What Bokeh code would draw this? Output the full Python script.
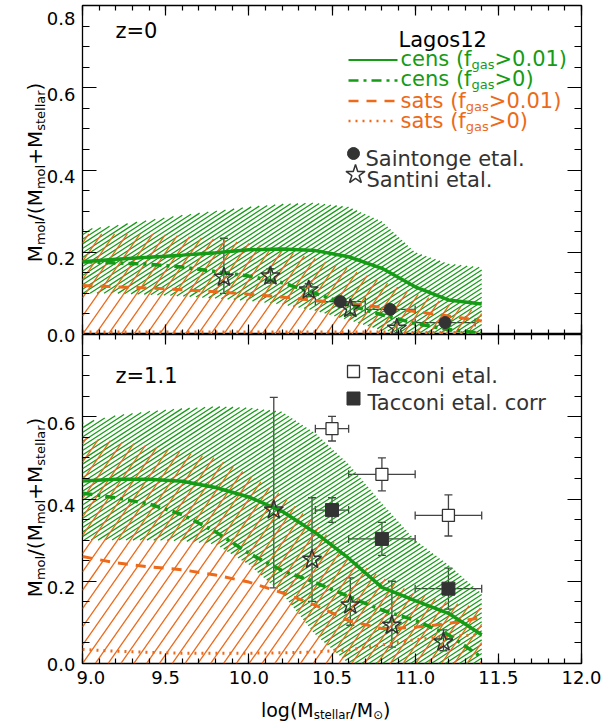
import math
import numpy as np
from bokeh.plotting import figure
from bokeh.layouts import column, row
from bokeh.models import (Range1d, LinearAxis, FixedTicker, PrintfTickFormatter,
                          Label, Whisker, TeeHead, ColumnDataSource)
from bokeh.embed import file_html
from bokeh.resources import INLINE

# ---------------- data ----------------
mass = [9.0, 9.2, 9.4, 9.6, 9.8, 10.0, 10.2, 10.4, 10.6, 10.8, 11.0, 11.2, 11.4]

# z = 0 model (Lagos12)
z0_cens_gt001 = [0.177, 0.183, 0.188, 0.193, 0.199, 0.206, 0.208, 0.204, 0.189, 0.161, 0.116, 0.084, 0.074]
z0_cens_gt0 = [0.177, 0.174, 0.171, 0.164, 0.153, 0.142, 0.126, 0.100, 0.072, 0.048, 0.027, 0.012, 0.003]
z0_sats_gt001 = [0.119, 0.116, 0.113, 0.109, 0.104, 0.098, 0.091, 0.083, 0.075, 0.066, 0.056, 0.045, 0.033]
z0_sats_gt0 = [0.006, 0.006, 0.006, 0.006, 0.006, 0.006, 0.006, 0.006, 0.006, 0.006, 0.005, 0.005, 0.005]
z0_cens_hi = [0.255, 0.265, 0.278, 0.290, 0.300, 0.310, 0.317, 0.320, 0.310, 0.275, 0.200, 0.172, 0.163]
z0_cens_lo = [0.100, 0.100, 0.097, 0.093, 0.088, 0.082, 0.073, 0.058, 0.035, 0.010, 0.0, 0.0, 0.0]
z0_sats_hi = [0.245, 0.245, 0.245, 0.240, 0.232, 0.222, 0.205, 0.185, 0.160, 0.130, 0.100, 0.075, 0.055]
z0_sats_lo = [0.0, 0.0, 0.0, 0.0, 0.0, 0.0, 0.0, 0.0, 0.0, 0.0, 0.0, 0.0, 0.0]

# z = 1.1 model
z1_cens_gt001 = [0.444, 0.448, 0.448, 0.443, 0.428, 0.405, 0.370, 0.318, 0.256, 0.185, 0.153, 0.122, 0.070]
z1_cens_gt0 = [0.414, 0.403, 0.388, 0.362, 0.320, 0.268, 0.226, 0.197, 0.163, 0.130, 0.105, 0.070, 0.015]
z1_sats_gt001 = [0.260, 0.245, 0.235, 0.228, 0.215, 0.198, 0.172, 0.142, 0.104, 0.085, 0.088, 0.097, 0.112]
z1_sats_gt0 = [0.034, 0.030, 0.027, 0.025, 0.025, 0.025, 0.026, 0.028, 0.033, 0.045, 0.058, 0.066, 0.070]
z1_cens_hi = [0.585, 0.603, 0.613, 0.620, 0.625, 0.622, 0.612, 0.560, 0.485, 0.390, 0.300, 0.240, 0.170]
z1_cens_lo = [0.300, 0.300, 0.300, 0.298, 0.290, 0.240, 0.170, 0.070, 0.0, 0.0, 0.0, 0.0, 0.0]
z1_sats_hi = [0.551, 0.540, 0.530, 0.515, 0.500, 0.460, 0.410, 0.340, 0.260, 0.210, 0.170, 0.150, 0.135]
z1_sats_lo = [0.0, 0.0, 0.0, 0.0, 0.0, 0.0, 0.0, 0.0, 0.0, 0.0, 0.0, 0.0, 0.0]

# z = 0 observations
saintonge_x = [10.55, 10.85, 11.18]
saintonge_y = [0.080, 0.061, 0.029]
saintonge_xlo = [10.40, 10.70, 11.00]
saintonge_xhi = [10.70, 11.00, 11.36]

santini0_x = [9.85, 10.13, 10.36, 10.61, 10.89]
santini0_y = [0.139, 0.142, 0.108, 0.063, 0.015]
santini0_ylo = [0.100, 0.125, 0.092, 0.047, 0.002]
santini0_yhi = [0.234, 0.160, 0.124, 0.079, 0.030]

# z = 1.1 observations
tacconi_x = [10.5, 10.8, 11.2]
tacconi_y = [0.571, 0.460, 0.360]
tacconi_corr_y = [0.373, 0.303, 0.182]
tacconi_xerr = [0.1, 0.2, 0.2]
tacconi_yerr = [0.03, 0.04, 0.05]

santini1_x = [10.15, 10.38, 10.61, 10.86, 11.17]
santini1_y = [0.373, 0.253, 0.142, 0.093, 0.052]
santini1_ylo = [0.184, 0.151, 0.093, 0.040, 0.031]
santini1_yhi = [0.647, 0.403, 0.208, 0.200, 0.082]

x_ticks = [9.0, 9.5, 10.0, 10.5, 11.0, 11.5, 12.0]
y_ticks = [0.0, 0.2, 0.4, 0.6, 0.8]
y_labels_top = ["0.0", "0.2", "0.4", "0.6", "0.8"]
y_labels_bot = ["0.0", "0.2", "0.4", "0.6", ""]

# ---------------- style ----------------
GREEN = "#169B16"
ORANGE = "#EC6A1A"
DARK = "#333333"
ERR = "#444444"
FONT = "DejaVu Sans"

LW = 76                    # width of left label strip
W = 608 - LW               # width of main column
FL, FR = 82, 581           # frame left/right (page px)
T1, MID, B2 = 5, 334, 663  # frame top, shared edge, bottom (page px)
XB = 32                    # room below bottom frame for tick labels
H1 = MID
H2 = (B2 - MID) + XB
H3 = 721 - H1 - H2
SX = (FR - FL) / 3.0       # px per x unit
SY = (MID - T1) / 0.8      # px per y unit

def xd(px):
    return 9.0 + (px - FL) / SX

def yd1(py):
    return (MID - py) / SY

def yd2(py):
    return (B2 - py) / SY

# DejaVu Sans advance widths (per 1000 em)
WID = {' ': 318, '(': 390, ')': 390, '/': 337, '+': 838, '.': 318, '=': 838, '>': 838,
       'M': 863, 'L': 557, 'S': 635, 'T': 611, 'a': 613, 'c': 550, 'e': 615, 'g': 635,
       'i': 278, 'l': 278, 'm': 974, 'n': 634, 'o': 612, 'r': 411, 's': 521, 't': 392,
       'z': 525, 'f': 352, '\u2299': 838}
for d in "0123456789":
    WID[d] = 636

def tw(s, size):
    return sum(WID.get(c, 600) for c in s) * size / 1000.0

def rich(p, x, y, parts, size, color, vertical=False, sub=0.62, shift=0.28):
    adv = 0.0
    for txt, is_sub in parts:
        fs = size * sub if is_sub else size
        off = -shift * size if is_sub else 0.0
        if vertical:
            xo, yo, ang = -off, adv, math.pi / 2
        else:
            xo, yo, ang = adv, off, 0.0
        p.add_layout(Label(x=x, y=y, x_offset=xo, y_offset=yo, text=txt,
                           text_font=FONT, text_font_size=f"{fs:.1f}px",
                           text_color=color, angle=ang,
                           text_baseline="alphabetic", text_align="left"))
        adv += tw(txt, fs)
    return adv

def style_axis(ax, ticks, minor, major_len, minor_len, labels):
    ax.ticker = FixedTicker(ticks=ticks, minor_ticks=minor)
    ax.axis_line_color = None
    ax.major_tick_in = major_len
    ax.major_tick_out = 0
    ax.minor_tick_in = minor_len
    ax.minor_tick_out = 0
    ax.major_tick_line_color = "black"
    ax.minor_tick_line_color = "black"
    ax.major_tick_line_width = 1.2
    ax.minor_tick_line_width = 1.2
    if labels:
        ax.formatter = PrintfTickFormatter(format="%.1f")
        ax.major_label_text_font = FONT
        ax.major_label_text_font_size = "18px"
        ax.major_label_text_color = "black"
    else:
        ax.formatter = PrintfTickFormatter(format="")
        ax.major_label_text_font_size = "1px"
        ax.major_label_standoff = 0
        ax.axis_label_standoff = 0

x_minor = [round(9.0 + 0.1 * i, 2) for i in range(31)]
y_minor = [round(0.05 * i, 3) for i in range(17)]

def make_fig(height, top, bottom):
    p = figure(width=W, height=height, x_range=Range1d(9.0, 12.0), y_range=Range1d(0.0, 0.8),
               output_backend="svg", toolbar_location=None,
               min_border_left=FL - LW, min_border_right=608 - FR,
               min_border_top=top, min_border_bottom=bottom)
    p.grid.visible = False
    p.outline_line_color = "black"
    p.outline_line_width = 1.3
    return p

def side_fig(width, height, x_range, y_range):
    f = figure(width=width, height=height, x_range=x_range, y_range=y_range,
               output_backend="svg", toolbar_location=None,
               x_axis_type=None, y_axis_type=None, min_border=0)
    f.grid.visible = False
    f.outline_line_color = None
    return f

def hatch(p, lo, hi, angle, gap, color, width):
    """hatch the band lo..hi with straight lines at `angle` deg, `gap` px apart."""
    xs = np.array(mass, dtype=float)
    xg = np.linspace(xs[0], xs[-1], 3000)
    xp = (xg - 9.0) * SX
    lo_p = np.interp(xg, xs, lo) * SY
    hi_p = np.interp(xg, xs, hi) * SY
    t = math.tan(math.radians(angle))
    dc = gap / math.cos(math.radians(angle))
    cmin = float((lo_p - t * xp).min())
    cmax = float((hi_p - t * xp).max())
    sx_list, sy_list = [], []
    c = math.floor(cmin / dc) * dc
    while c <= cmax + dc:
        yl = t * xp + c
        m = (yl >= lo_p) & (yl <= hi_p)
        if m.any():
            d = np.diff(m.astype(int))
            starts = list(np.where(d == 1)[0] + 1)
            ends = list(np.where(d == -1)[0])
            if m[0]:
                starts = [0] + starts
            if m[-1]:
                ends = ends + [len(m) - 1]
            for s, e in zip(starts, ends):
                if e > s:
                    sx_list.append([float(xg[s]), float(xg[e])])
                    sy_list.append([float(yl[s] / SY), float(yl[e] / SY)])
        c += dc
    p.multi_line(sx_list, sy_list, line_color=color, line_width=width)

def draw_panel(p, hi_c, lo_c, hi_s, lo_s, c001, c0, s001, s0):
    hatch(p, lo_c, hi_c, 33, 3.8, GREEN, 1.25)
    hatch(p, lo_s, hi_s, 55, 10.5, ORANGE, 1.3)
    p.line(mass, s0, line_color=ORANGE, line_width=3, line_dash="2 5")
    p.line(mass, s001, line_color=ORANGE, line_width=3, line_dash="10 8")
    p.line(mass, c0, line_color=GREEN, line_width=3.5, line_dash="10 5 3 5")
    p.line(mass, c001, line_color=GREEN, line_width=3.5)

def yerr(p, x, lo, hi):
    src = ColumnDataSource(dict(x=x, lo=lo, hi=hi))
    p.add_layout(Whisker(base="x", lower="lo", upper="hi", source=src, dimension="height",
                         line_color=ERR, line_width=1.3,
                         upper_head=TeeHead(size=8, line_color=ERR, line_width=1.3),
                         lower_head=TeeHead(size=8, line_color=ERR, line_width=1.3)))

def xerr(p, y, lo, hi):
    src = ColumnDataSource(dict(y=y, lo=lo, hi=hi))
    p.add_layout(Whisker(base="y", lower="lo", upper="hi", source=src, dimension="width",
                         line_color=ERR, line_width=1.3,
                         upper_head=TeeHead(size=8, line_color=ERR, line_width=1.3),
                         lower_head=TeeHead(size=8, line_color=ERR, line_width=1.3)))

# ---------------- top panel (z=0) ----------------
p1 = make_fig(H1, T1, 0)
style_axis(p1.xaxis[0], x_ticks, x_minor, 10, 5, False)
style_axis(p1.yaxis[0], y_ticks, y_minor, 14, 7, False)
ax = LinearAxis(); p1.add_layout(ax, "above"); style_axis(ax, x_ticks, x_minor, 10, 5, False)
ax = LinearAxis(); p1.add_layout(ax, "right"); style_axis(ax, y_ticks, y_minor, 14, 7, False)

draw_panel(p1, z0_cens_hi, z0_cens_lo, z0_sats_hi, z0_sats_lo,
           z0_cens_gt001, z0_cens_gt0, z0_sats_gt001, z0_sats_gt0)

xerr(p1, saintonge_y, saintonge_xlo, saintonge_xhi)
yerr(p1, santini0_x, santini0_ylo, santini0_yhi)
p1.scatter(saintonge_x, saintonge_y, marker="circle", size=12, fill_color=DARK, line_color=DARK)
p1.scatter(santini0_x, santini0_y, marker="star", size=20, fill_color=None,
           line_color=DARK, line_width=1.5)

# legend (top panel)
rich(p1, xd(115), yd1(30.7), [("z=0", False)], 21, "black")
rich(p1, xd(398), yd1(39), [("Lagos12", False)], 21, "black")
leg = [("cens (f", ">0.01)", GREEN, None, 58.0, 59.5),
       ("cens (f", ">0)", GREEN, "10 5 3 5", 78.5, 80.0),
       ("sats (f", ">0.01)", ORANGE, "10 8", 100.0, 100.5),
       ("sats (f", ">0)", ORANGE, "2 5", 120.5, 120.5)]
for pre, post, col, dash, base, ly in leg:
    kw = dict(line_color=col, line_width=2.2 if dash is None else 2.6)
    if dash:
        kw["line_dash"] = dash
    p1.line([xd(348), xd(397)], [yd1(ly), yd1(ly)], **kw)
    rich(p1, xd(400), yd1(base), [(pre, False), ("gas", True), (post, False)], 21, col)
p1.scatter([xd(353)], [yd1(153)], marker="circle", size=12, fill_color=DARK, line_color=DARK)
rich(p1, xd(365), yd1(158.5), [("Saintonge etal.", False)], 21, DARK)
p1.scatter([xd(355)], [yd1(174)], marker="star", size=20, fill_color=None, line_color=DARK, line_width=1.5)
rich(p1, xd(366), yd1(179.5), [("Santini etal.", False)], 21, DARK)

# ---------------- bottom panel (z=1.1) ----------------
p2 = make_fig(H2, 0, XB)
style_axis(p2.xaxis[0], x_ticks, x_minor, 10, 5, True)
p2.xaxis[0].major_label_standoff = 7
style_axis(p2.yaxis[0], y_ticks, y_minor, 14, 7, False)
ax = LinearAxis(); p2.add_layout(ax, "above"); style_axis(ax, x_ticks, x_minor, 10, 5, False)
ax = LinearAxis(); p2.add_layout(ax, "right"); style_axis(ax, y_ticks, y_minor, 14, 7, False)

draw_panel(p2, z1_cens_hi, z1_cens_lo, z1_sats_hi, z1_sats_lo,
           z1_cens_gt001, z1_cens_gt0, z1_sats_gt001, z1_sats_gt0)

t_xlo = [x - e for x, e in zip(tacconi_x, tacconi_xerr)]
t_xhi = [x + e for x, e in zip(tacconi_x, tacconi_xerr)]
xerr(p2, tacconi_y, t_xlo, t_xhi)
yerr(p2, tacconi_x, [y - e for y, e in zip(tacconi_y, tacconi_yerr)],
     [y + e for y, e in zip(tacconi_y, tacconi_yerr)])
xerr(p2, tacconi_corr_y, t_xlo, t_xhi)
yerr(p2, tacconi_x, [y - e for y, e in zip(tacconi_corr_y, tacconi_yerr)],
     [y + e for y, e in zip(tacconi_corr_y, tacconi_yerr)])
yerr(p2, santini1_x, santini1_ylo, santini1_yhi)
p2.scatter(tacconi_x, tacconi_y, marker="square", size=12, fill_color="white",
           line_color=DARK, line_width=1.3)
p2.scatter(tacconi_x, tacconi_corr_y, marker="square", size=13, fill_color=DARK, line_color=DARK)
p2.scatter(santini1_x, santini1_y, marker="star", size=20, fill_color=None,
           line_color=DARK, line_width=1.5)

rich(p2, xd(115), yd2(375), [("z=1.1", False)], 21, "black")
p2.scatter([xd(353)], [yd2(371)], marker="square", size=12, fill_color="white", line_color=DARK, line_width=1.3)
rich(p2, xd(367), yd2(375.5), [("Tacconi etal.", False)], 21, DARK)
p2.scatter([xd(353)], [yd2(398)], marker="square", size=13, fill_color=DARK, line_color=DARK)
rich(p2, xd(367), yd2(402), [("Tacconi etal. corr", False)], 21, DARK)

# ---------------- left strip: y tick labels and y titles (page px, y down) ----------------
ys = side_fig(LW, 721, Range1d(0, LW), Range1d(721, 0))

def y_tick_labels(f, labels, base_px):
    for v, t in zip(y_ticks, labels):
        if not t:
            continue
        py = base_px - v * SY
        if v == y_ticks[-1]:
            py_base = T1 + 12.5
        elif v == y_ticks[0]:
            py_base = py + 0.5
        else:
            py_base = py + 6.5
        f.add_layout(Label(x=LW - 1, y=py_base, text=t, text_font=FONT,
                           text_font_size="18px", text_color="black",
                           text_align="right", text_baseline="alphabetic"))

y_tick_labels(ys, y_labels_top, MID)
y_tick_labels(ys, y_labels_bot, B2)

YF, YS = 20, 0.65
ylab = [("M", False), ("mol", True), ("/(M", False), ("mol", True),
        ("+M", False), ("stellar", True), (")", False)]
ylen = sum(tw(t, YF * (YS if s else 1.0)) for t, s in ylab)
rich(ys, 34, 172 + ylen / 2, ylab, YF, "black", vertical=True, sub=YS)
rich(ys, 34, 507 + ylen / 2, ylab, YF, "black", vertical=True, sub=YS)

# ---------------- bottom strip: x title ----------------
xl = side_fig(W, H3, Range1d(LW, 608), Range1d(0, H3))
xlab = [("log(M", False), ("stellar", True), ("/M", False), ("\u2299", True), (")", False)]
xlen = sum(tw(t, 19 * (0.62 if s else 1.0)) for t, s in xlab)
rich(xl, 331 - xlen / 2, 721 - 709.5, xlab, 19, "black")

layout = row(ys, column(p1, p2, xl, spacing=0), spacing=0)
open("out.html", "w").write(file_html(layout, INLINE))
